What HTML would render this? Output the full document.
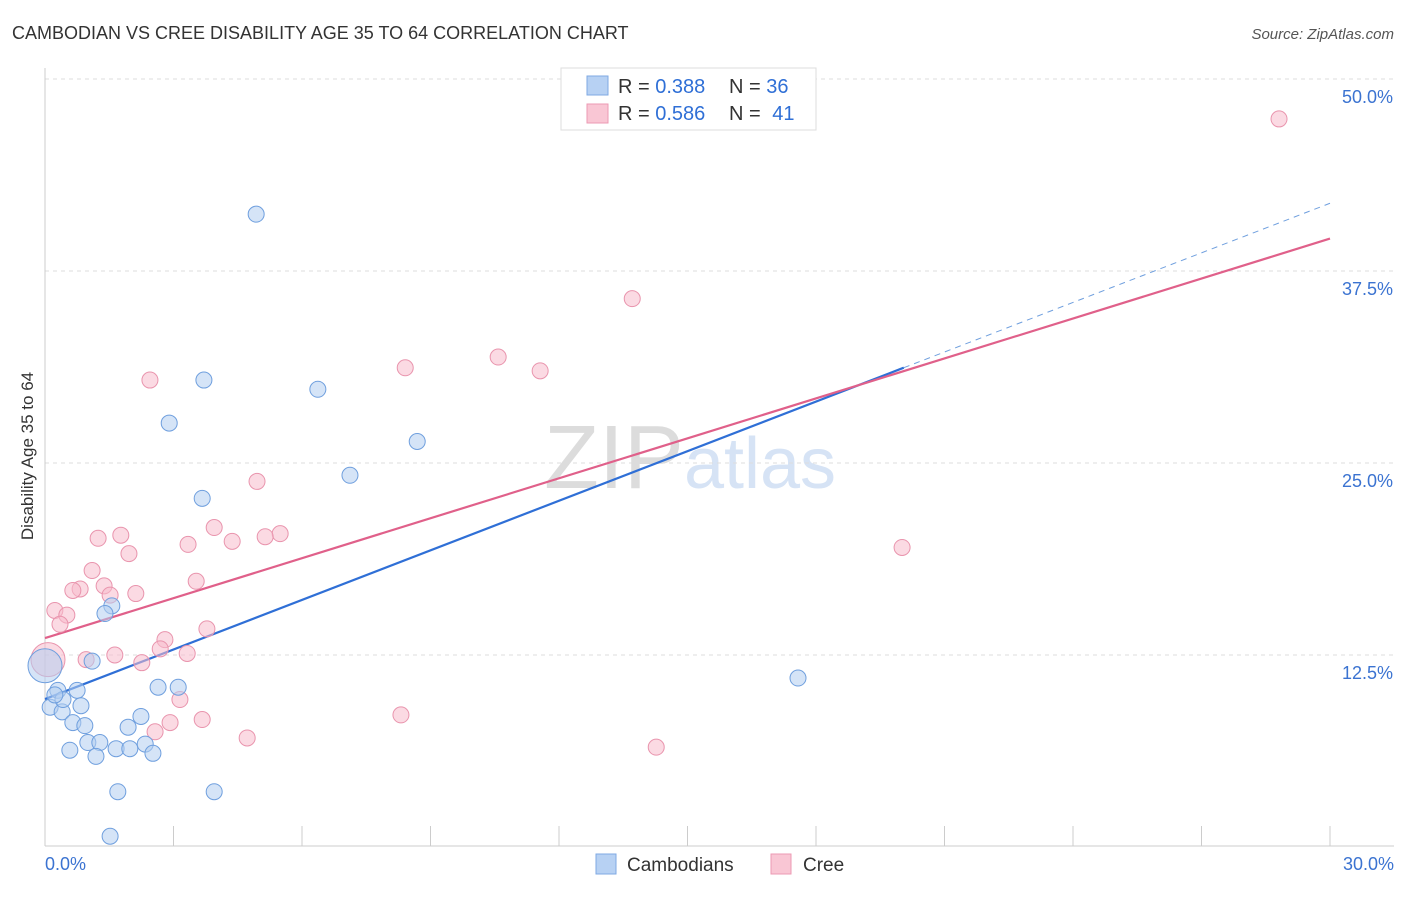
<!DOCTYPE html>
<html><head><meta charset="utf-8"><style>
body{margin:0;background:#fff;font-family:"Liberation Sans",sans-serif;}
svg text{font-family:"Liberation Sans",sans-serif;}
</style></head><body>
<svg id="chart" width="1406" height="892" viewBox="0 0 1406 892" xmlns="http://www.w3.org/2000/svg">
<text x="12" y="39" font-size="18" fill="#333">CAMBODIAN VS CREE DISABILITY AGE 35 TO 64 CORRELATION CHART</text>
<text x="1394" y="39" font-size="15" fill="#555" text-anchor="end" font-style="italic">Source: ZipAtlas.com</text>
<text x="690" y="488" font-size="90" fill="#e4e4e4" text-anchor="middle" font-family="Liberation Serif"><tspan fill="#dcdcdc">ZIP</tspan><tspan fill="#d6e3f5" font-family="Liberation Sans" font-size="72">atlas</tspan></text>
<text transform="translate(33,456) rotate(-90)" font-size="17" fill="#333" text-anchor="middle">Disability Age 35 to 64</text>
<g id="grid"></g><g id="axes"></g><g id="lines"></g><g id="pts"></g>
<g>
<rect x="561" y="68" width="255" height="62" fill="#fff" stroke="#ddd"/>
<rect x="587" y="76" width="21" height="19" fill="#b7d1f3" stroke="#7fa9e3"/>
<text x="618" y="93" font-size="20" fill="#333">R = <tspan fill="#2f6fd6">0.388</tspan></text>
<text x="729" y="93" font-size="20" fill="#333">N = <tspan fill="#2f6fd6">36</tspan></text>
<rect x="587" y="104" width="21" height="19" fill="#f9c6d4" stroke="#ec9ab3"/>
<text x="618" y="120" font-size="20" fill="#333">R = <tspan fill="#2f6fd6">0.586</tspan></text>
<text x="729" y="120" font-size="20" fill="#333">N = <tspan fill="#2f6fd6" dx="6">41</tspan></text>
</g>
<g>
<rect x="596" y="854" width="20" height="20" fill="#b7d1f3" stroke="#7fa9e3"/>
<text x="627" y="871" font-size="19" fill="#333">Cambodians</text>
<rect x="771" y="854" width="20" height="20" fill="#f9c6d4" stroke="#ec9ab3"/>
<text x="803" y="871" font-size="19" fill="#333">Cree</text>
</g>
</svg>
<script>
const blueX=[4.93,3.71,6.37,2.90,8.69,7.12,3.67,1.56,1.40,1.10,0,0.30,0.75,0.12,0.40,0.84,0.42,0.65,0.93,2.64,3.11,2.24,1.94,1.00,1.28,0.58,1.19,1.66,1.98,2.34,2.52,1.70,3.95,1.52,17.58,0.23];
const blueY=[41.2,30.4,29.8,27.6,26.4,24.2,22.7,15.7,15.2,12.1,11.8,10.2,10.2,9.1,8.8,9.2,9.6,8.1,7.9,10.4,10.4,8.5,7.8,6.8,6.8,6.3,5.9,6.4,6.4,6.7,6.1,3.6,3.6,0.7,11.0,9.9];
const pinkX=[28.81,13.71,2.45,8.41,10.58,11.56,4.95,3.95,5.49,5.14,4.37,3.34,1.77,1.24,1.96,1.10,3.53,1.38,0.82,0.65,2.12,1.52,0.23,0.51,0.35,3.78,2.80,2.69,3.32,1.63,0.96,2.26,0.07,3.15,2.92,3.67,2.57,4.72,8.31,14.27,20.01];
const pinkY=[47.4,35.7,30.4,31.2,31.9,31.0,23.8,20.8,20.4,20.2,19.9,19.7,20.3,20.1,19.1,18.0,17.3,17.0,16.8,16.7,16.5,16.4,15.4,15.1,14.5,14.2,13.5,12.9,12.6,12.5,12.2,12.0,12.2,9.6,8.1,8.3,7.5,7.1,8.6,6.5,19.5];
const yTicks=[12.5,25,37.5,50];
const yTickLabels=["12.5%","25.0%","37.5%","50.0%"];
const blueFit=[9.63,1.076]; const pinkFit=[13.6,0.867];
const X=v=>45+v/30*1285, Y=v=>847-v/12.5*192;
const NS="http://www.w3.org/2000/svg";
function mk(p,t,a){const e=document.createElementNS(NS,t);for(const k in a)e.setAttribute(k,a[k]);document.getElementById(p).appendChild(e);return e;}
yTicks.forEach((t,i)=>{
 const g=mk('grid','line',{x1:45,x2:1394,y1:Y(t),y2:Y(t),stroke:'#ddd','stroke-dasharray':'4,4'});
 
 
 const l=mk('axes','text',{x:1393,y:Y(t)+24,'font-size':18,fill:'#3b73d1','text-anchor':'end'});
 l.textContent=yTickLabels[i];
 
 
});
const ya=mk('axes','line',{x1:45,x2:45,y1:68,y2:846,stroke:'#ccc'});


const xa=mk('axes','line',{x1:45,x2:1394,y1:846,y2:846,stroke:'#ccc'});


for(let i=0;i<=10;i++){const tk=mk('axes','line',{x1:X(i*3),x2:X(i*3),y1:826,y2:846,stroke:'#ccc'});
 
 }
const xl0=mk('axes','text',{x:45,y:870,'font-size':18,fill:'#3b73d1'});xl0.textContent='0.0%';


const xl1=mk('axes','text',{x:1394,y:870,'font-size':18,fill:'#3b73d1','text-anchor':'end'});xl1.textContent='30.0%';


function pts(xs,ys,fill,stroke,name){xs.forEach((x,i)=>{const big=x<0.1;
 const c=mk('pts','circle',{cx:X(x),cy:Y(ys[i]),r:big?17:8,fill:fill,'fill-opacity':0.55,stroke:stroke,'stroke-width':1});
 
 });}
pts(pinkX,pinkY,'#f7bccc','#e994ad','cree-point');
pts(blueX,blueY,'#b3cdf1','#6f9fde','cambodian-point');
const bl=mk('lines','line',{x1:X(0),y1:Y(blueFit[0]),x2:X(20.05),y2:Y(blueFit[0]+blueFit[1]*20.05),stroke:'#2f6fd6','stroke-width':2.2});


const bd=mk('lines','line',{x1:X(20.05),y1:Y(blueFit[0]+blueFit[1]*20.05),x2:X(30),y2:Y(blueFit[0]+blueFit[1]*30),stroke:'#6f9fde','stroke-width':1,'stroke-dasharray':'6,5'});


const pl=mk('lines','line',{x1:X(0),y1:Y(pinkFit[0]),x2:X(30),y2:Y(pinkFit[0]+pinkFit[1]*30),stroke:'#e0608a','stroke-width':2.2});


</script>
</body></html>
